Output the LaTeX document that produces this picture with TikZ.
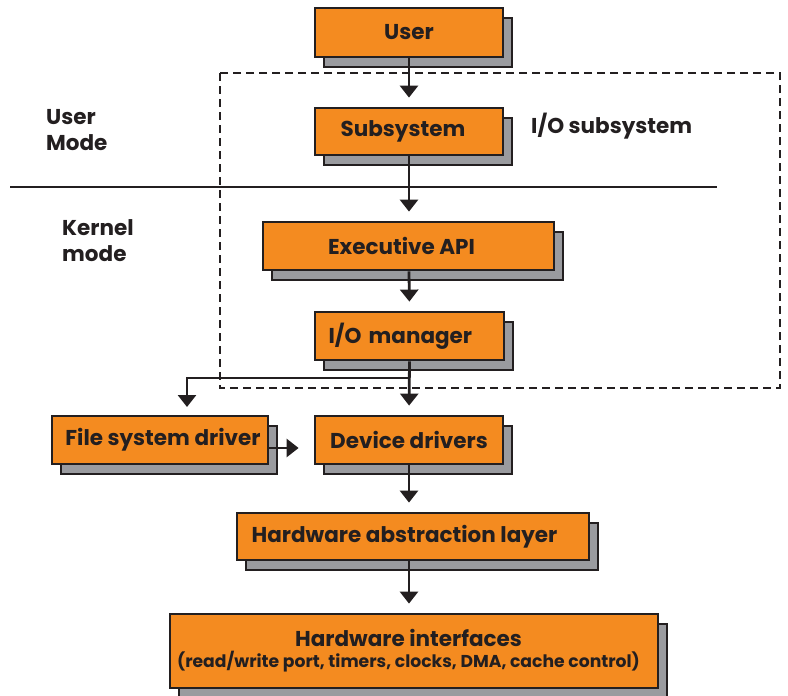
\documentclass[tikz,border=0pt]{standalone}
\usepackage{fontspec}
\setmainfont{Poppins}
\usetikzlibrary{arrows.meta,shadows}
\definecolor{boxorange}{HTML}{F48B20}
\definecolor{shadowgray}{HTML}{9A9B9F}
\definecolor{ink}{HTML}{231F20}
\begin{document}
\begin{tikzpicture}[x=1pt,y=-1pt,
  layerbox/.style={draw=ink, line width=2.8pt, fill=boxorange, inner sep=0pt,
    text=ink, font=\fontsize{21.5}{24}\selectfont\bfseries, align=center,
    drop shadow={shadow xshift=9pt, shadow yshift=-10pt, fill=shadowgray,
      draw=ink, line width=2.8pt, opacity=1}},
  flow/.style={draw=ink, line width=2.8pt, -{Triangle[width=18pt,length=12pt]}, shorten >=9pt},
  sidelabel/.style={text=ink, font=\fontsize{21.5}{26}\selectfont\bfseries, align=left, inner sep=0pt}]
\useasboundingbox (0,0) rectangle (788,696);

% I/O subsystem boundary and user/kernel divide
\draw[ink, line width=2.2pt, dash pattern=on 8pt off 5pt] (220,73) rectangle (780,388);
\draw[ink, line width=2.2pt] (10,187) -- (717,187);

% layers
\node[layerbox, minimum width=188pt, minimum height=49pt] (user) at (409,32.5) {User};
\node[layerbox, minimum width=188pt, minimum height=47pt] (sub) at (409,131.5) {Subsystem\hspace*{12pt}};
\node[layerbox, minimum width=291pt, minimum height=48pt] (exec) at (408.5,246) {Executive API\hspace*{14pt}};
\node[layerbox, minimum width=189pt, minimum height=48pt, text width=162pt, align=left] (iom) at (409.5,336) {I/O manager};
\node[layerbox, minimum width=216pt, minimum height=48pt] (fsd) at (160,440) {\hspace*{6pt}File system driver};
\node[layerbox, minimum width=188pt, minimum height=48pt] (dev) at (409,440) {Device drivers};
\node[layerbox, minimum width=352pt, minimum height=47pt] (hal) at (413,536.5) {Hardware abstraction layer\hspace*{17pt}};
\node[layerbox, minimum width=488pt, minimum height=74pt] (hw) at (414,651)
  {Hardware interfaces\hspace*{11pt}\\[-3pt]{\fontsize{17.2}{19}\selectfont(read/write port, timers, clocks, DMA, cache control)\hspace*{11pt}}};

% side labels
\node[sidelabel, anchor=north west] (umode) at (46,109) {User\\Mode};
\node[sidelabel, anchor=north west] (kmode) at (62,219) {Kernel\\mode};
\node[sidelabel, anchor=west] (iosub) at (531,126) {I/O subsystem};

% connectors
\coordinate (split) at (409,378);
\coordinate (fsdin) at (187,416);
\draw[flow] (user.south) -- (sub.north);
\draw[flow] (sub.south) -- (sub.south |- exec.north);
\draw[flow] (sub.south |- exec.south) -- (iom.north);
\draw[flow] (iom.south) -- (dev.north);
\draw[flow] (split) -| (fsdin);
\draw[flow] (dev.south) -- (dev.south |- hal.north);
\draw[flow] (dev.south |- hal.south) -- (dev.south |- hw.north);
\draw[flow, shorten >=15pt] ([yshift=-8pt]fsd.east) -- ([yshift=-8pt]dev.west);
\end{tikzpicture}
\end{document}
